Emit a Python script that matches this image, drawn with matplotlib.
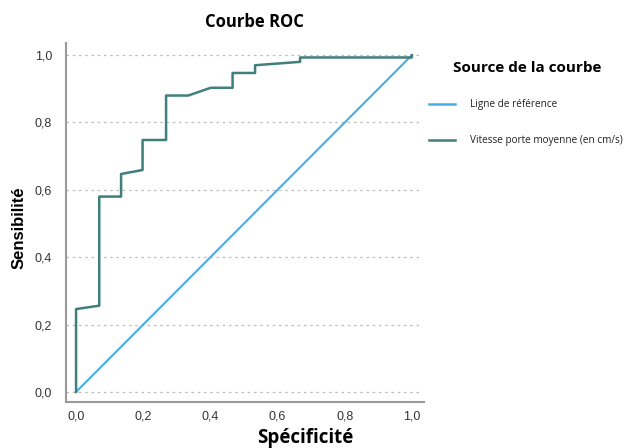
import numpy as np
import matplotlib
matplotlib.use('Agg')
import matplotlib.pyplot as plt
from matplotlib.lines import Line2D

# ROC curve points
roc_x = [0.0, 0.0, 0.069, 0.069, 0.134, 0.134, 0.198, 0.198, 0.268, 0.268,
         0.334, 0.401, 0.466, 0.466, 0.533, 0.533, 0.667, 0.667, 1.0, 1.0]
roc_y = [0.0, 0.246, 0.256, 0.580, 0.580, 0.647, 0.659, 0.748, 0.748, 0.880,
         0.880, 0.903, 0.903, 0.947, 0.947, 0.970, 0.980, 0.993, 0.993, 1.0]
ref_x = [0.0, 1.0]
ref_y = [0.0, 1.0]
ticks = [0.0, 0.2, 0.4, 0.6, 0.8, 1.0]
tick_labels = ['0,0', '0,2', '0,4', '0,6', '0,8', '1,0']
legend_labels = ['Ligne de référence', 'Vitesse porte moyenne (en cm/s)']

ref_color = '#45aee8'
roc_color = '#3f7f7c'
axis_grey = '#9a9a9a'

fig = plt.figure(figsize=(6.3, 4.48), dpi=100)
# axes spans x 66..424 px, y 43..402 px
ax = fig.add_axes([66 / 630, (448 - 402) / 448, (424 - 66) / 630, (402 - 43) / 448])

ax.plot(ref_x, ref_y, color=ref_color, lw=1.5)
ax.plot(roc_x, roc_y, color=roc_color, lw=1.8)

ax.set_xlim(-0.03, 1.036)
ax.set_ylim(-0.03, 1.036)

for t in ticks:
    ax.plot([-0.03, 1.025], [t, t], ls=(0, (2, 3)), color='#bdbdbd', lw=0.9, zorder=0)

ax.set_xticks(ticks)
ax.set_xticklabels(tick_labels)
ax.set_yticks(ticks)
ax.set_yticklabels(tick_labels)
ax.tick_params(length=0, labelsize=9, colors='#333333', pad=6,
               labelfontfamily='Liberation Sans')
ax.tick_params(axis='y', pad=10)

for s in ['top', 'right']:
    ax.spines[s].set_visible(False)
for s in ['left', 'bottom']:
    ax.spines[s].set_color(axis_grey)
    ax.spines[s].set_linewidth(1.5)

fig.text(254 / 630, 1 - 22 / 448, 'Courbe ROC', ha='center', va='center',
         fontsize=12, fontweight='bold', family=['Open Sans', 'DejaVu Sans'])
fig.text(305 / 630, 1 - 438 / 448, 'Spécificité', ha='center', va='center',
         fontsize=13.5, fontweight='bold', family=['Open Sans', 'DejaVu Sans'])
fig.text(19 / 630, 1 - 228 / 448, 'Sensibilité', ha='center', va='center',
         rotation=90, fontsize=12, fontweight='bold',
         family=['Liberation Sans Narrow', 'Liberation Sans'])

# legend
fig.text(527 / 630, 1 - 68 / 448, 'Source de la courbe', ha='center', va='center',
         fontsize=11, fontweight='bold', family=['Open Sans', 'DejaVu Sans'])
for label, col, yy in zip(legend_labels, [ref_color, roc_color], [104, 140]):
    fig.add_artist(Line2D([429 / 630, 455 / 630], [1 - yy / 448, 1 - yy / 448],
                          color=col, lw=1.8, transform=fig.transFigure))
    fig.text(470 / 630, 1 - yy / 448, label, ha='left', va='center',
             fontsize=7.2, family=['Open Sans', 'DejaVu Sans'], color='#222222')

fig.savefig('out.png', dpi=100)
